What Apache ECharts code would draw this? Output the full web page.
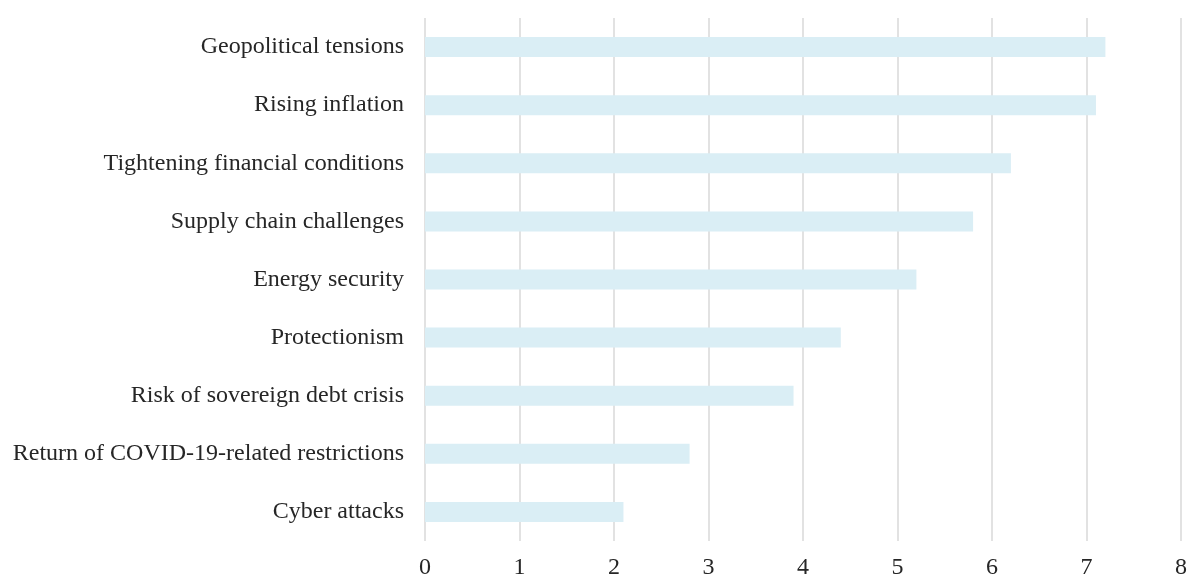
<!DOCTYPE html>
<html>
<head>
<meta charset="utf-8">
<style>html,body{margin:0;padding:0;background:#fff;}#chart{width:1190px;height:580px;}</style>
<script src="https://cdn.jsdelivr.net/npm/echarts@6/dist/echarts.min.js"></script>
</head>
<body>
<div id="chart"></div>
<script>
const categories = [
  "Geopolitical tensions",
  "Rising inflation",
  "Tightening financial conditions",
  "Supply chain challenges",
  "Energy security",
  "Protectionism",
  "Risk of sovereign debt crisis",
  "Return of COVID-19-related restrictions",
  "Cyber attacks"
];
const values = [7.2, 7.1, 6.2, 5.8, 5.2, 4.4, 3.9, 2.8, 2.1];
const xTicks = [0, 1, 2, 3, 4, 5, 6, 7, 8];

const chart = echarts.init(document.getElementById('chart'), null, {renderer: 'canvas'});
const font = '"Liberation Serif", "Times New Roman", serif';
chart.setOption({
  animation: false,
  grid: {left: 425, right: 3.5, top: 18, bottom: 38, containLabel: false},
  xAxis: {
    type: 'value', min: xTicks[0], max: xTicks[xTicks.length - 1], interval: 1,
    axisLine: {show: false}, axisTick: {show: false},
    splitLine: {show: true, lineStyle: {color: '#d9d9d9', width: 1.5}},
    axisLabel: {color: '#262626', fontFamily: font, fontSize: 24, margin: 15}
  },
  yAxis: {
    type: 'category', data: categories, inverse: true,
    axisLine: {show: false}, axisTick: {show: false},
    axisLabel: {color: '#262626', fontFamily: font, fontSize: 24, margin: 21}
  },
  series: [{
    type: 'bar', data: values, barWidth: 20,
    itemStyle: {color: '#daeef5'}
  }]
});
</script>
</body>
</html>
